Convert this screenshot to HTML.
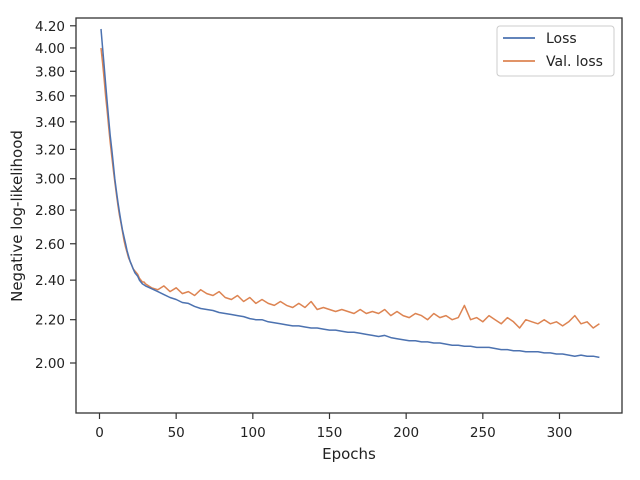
<!DOCTYPE html>
<html><head><meta charset="utf-8"><style>
html,body{margin:0;padding:0;background:#fff;}
svg{display:block;font-family:"DejaVu Sans","Liberation Sans",sans-serif;}
</style></head><body>
<svg id="chart" width="640" height="480" viewBox="0 0 640 480" xmlns="http://www.w3.org/2000/svg">
<rect x="0" y="0" width="640" height="480" fill="#fff"/>
<g id="series"></g>
<rect x="76" y="18" width="546" height="395" fill="none" stroke="#333" stroke-width="1.3"/>
<g id="axes"></g>
<text x="349" y="459" font-size="15" text-anchor="middle" fill="#222">Epochs</text>
<text transform="translate(22,216) rotate(-90)" font-size="15" text-anchor="middle" fill="#222">Negative log-likelihood</text>
<g>
<rect x="497" y="26" width="117" height="50" rx="3" fill="#fff" stroke="#ccc" stroke-width="1"/>
<line x1="503" y1="38" x2="535" y2="38" stroke="#4c72b0" stroke-width="1.8"/>
<text x="546" y="43" font-size="14" fill="#222">Loss</text>
<line x1="503" y1="61" x2="535" y2="61" stroke="#dd8452" stroke-width="1.8"/>
<text x="546" y="66" font-size="14" fill="#222">Val. loss</text>
</g>
</svg>
<script>
const earlyEpochs = [1,2,3,4,5,6,7,8,9,10,11,12,13,14,15,16,17,18,19,20,21,22,23,24,25,26,27,28,29,30];
const lateEpochs = [34,38,42,46,50,54,58,62,66,70,74,78,82,86,90,94,98,102,106,110,114,118,122,126,130,134,138,142,146,150,154,158,162,166,170,174,178,182,186,190,194,198,202,206,210,214,218,222,226,230,234,238,242,246,250,254,258,262,266,270,274,278,282,286,290,294,298,302,306,310,314,318,322,326];
const lossEarly = [4.17,4.0,3.85,3.7,3.55,3.42,3.3,3.2,3.1,3.0,2.92,2.85,2.79,2.73,2.68,2.64,2.6,2.56,2.53,2.5,2.48,2.46,2.44,2.43,2.42,2.40,2.39,2.38,2.375,2.37];
const lossLate = [2.355,2.34,2.325,2.31,2.30,2.285,2.28,2.265,2.255,2.25,2.245,2.235,2.23,2.225,2.22,2.215,2.205,2.20,2.2,2.19,2.185,2.18,2.175,2.17,2.17,2.165,2.16,2.16,2.155,2.15,2.15,2.145,2.14,2.14,2.135,2.13,2.125,2.12,2.125,2.115,2.11,2.105,2.10,2.10,2.095,2.095,2.09,2.09,2.085,2.08,2.08,2.075,2.075,2.07,2.07,2.07,2.065,2.06,2.06,2.055,2.055,2.05,2.05,2.05,2.045,2.045,2.04,2.04,2.035,2.03,2.035,2.03,2.03,2.025];
const valEarly = [4.0,3.87,3.74,3.6,3.48,3.36,3.25,3.15,3.06,2.98,2.9,2.83,2.77,2.72,2.67,2.62,2.58,2.55,2.52,2.5,2.48,2.46,2.45,2.44,2.43,2.41,2.40,2.39,2.39,2.38];
const valLate = [2.36,2.35,2.37,2.34,2.36,2.33,2.34,2.32,2.35,2.33,2.32,2.34,2.31,2.30,2.32,2.29,2.31,2.28,2.30,2.28,2.27,2.29,2.27,2.26,2.28,2.26,2.29,2.25,2.26,2.25,2.24,2.25,2.24,2.23,2.25,2.23,2.24,2.23,2.25,2.22,2.24,2.22,2.21,2.23,2.22,2.20,2.23,2.21,2.22,2.20,2.21,2.27,2.20,2.21,2.19,2.22,2.20,2.18,2.21,2.19,2.16,2.20,2.19,2.18,2.20,2.18,2.19,2.17,2.19,2.22,2.18,2.19,2.16,2.18];
const xTicks = [0,50,100,150,200,250,300];
const yTicks = [2.0,2.2,2.4,2.6,2.8,3.0,3.2,3.4,3.6,3.8,4.0,4.2];

const NS = "http://www.w3.org/2000/svg";
const X0 = 99.5, XPX = 1.5333;
function xs(v){ return X0 + v * XPX; }
const Y2 = 363, YPX = 454.5;
function ys(v){ return Y2 - Math.log(v / 2) * YPX; }

const axes = document.getElementById('axes');
xTicks.forEach(t => {
  const l = document.createElementNS(NS,'line');
  
  
  l.setAttribute('x1',xs(t)); l.setAttribute('x2',xs(t));
  l.setAttribute('y1',413); l.setAttribute('y2',419);
  l.setAttribute('stroke','#333'); l.setAttribute('stroke-width','1.2');
  axes.appendChild(l);
  const tx = document.createElementNS(NS,'text');
  
  
  tx.setAttribute('x',xs(t)); tx.setAttribute('y',437);
  tx.setAttribute('text-anchor','middle'); tx.setAttribute('font-size','13.5'); tx.setAttribute('fill','#222');
  tx.textContent = t;
  axes.appendChild(tx);
});
yTicks.forEach(t => {
  const l = document.createElementNS(NS,'line');
  
  
  l.setAttribute('x1',70); l.setAttribute('x2',76);
  l.setAttribute('y1',ys(t)); l.setAttribute('y2',ys(t));
  l.setAttribute('stroke','#333'); l.setAttribute('stroke-width','1.2');
  axes.appendChild(l);
  const tx = document.createElementNS(NS,'text');
  
  
  tx.setAttribute('x',65); tx.setAttribute('y',ys(t)+5);
  tx.setAttribute('text-anchor','end'); tx.setAttribute('font-size','13.5'); tx.setAttribute('fill','#222');
  tx.textContent = t.toFixed(2);
  axes.appendChild(tx);
});

const series = document.getElementById('series');
const epochs = earlyEpochs.concat(lateEpochs);
function drawLine(vals, color, name){
  const p = document.createElementNS(NS,'polyline');
  
  
  p.setAttribute('points', vals.map((v,i)=>xs(epochs[i]).toFixed(1)+','+ys(v).toFixed(1)).join(' '));
  p.setAttribute('fill','none'); p.setAttribute('stroke',color); p.setAttribute('stroke-width','1.5');
  p.setAttribute('stroke-linejoin','round');
  series.appendChild(p);
}
drawLine(valEarly.concat(valLate), '#dd8452', 'val-loss-line');
drawLine(lossEarly.concat(lossLate), '#4c72b0', 'loss-line');
</script>
</body></html>
